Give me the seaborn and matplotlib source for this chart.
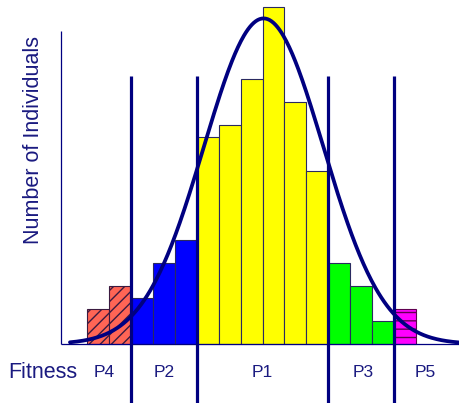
import matplotlib.pyplot as plt
import numpy as np
import pandas as pd
import seaborn as sns

# 棒グラフのデータ（ビンごとの個体数）
counts = [3, 5, 4, 7, 9, 18, 19, 23, 29.3, 21, 15, 7, 5, 2, 3]
groups = ["P4", "P4", "P2", "P2", "P2", "P1", "P1", "P1", "P1", "P1", "P1",
          "P3", "P3", "P3", "P5"]
group_colors = {"P4": "#ff6555", "P2": "#0000ff", "P1": "#ffff00",
                "P3": "#00ff00", "P5": "#ff00ff"}
group_hatch = {"P4": "///", "P5": "--"}

# 区切り線の位置（ビン境界）とラベル位置
boundaries = [2, 5, 11, 14]
label_names = ["P4", "P2", "P1", "P3", "P5"]
label_x = [0.8, 3.5, 8.0, 12.6, 15.4]

# 正規分布曲線のパラメータ
curve_mu = 8.05
curve_sigma = 2.72
curve_peak = 28.3

navy = "#000080"
text_color = "#1a1a80"

sns.set_style("white")
plt.rcParams["font.family"] = ["Liberation Sans", "DejaVu Sans"]

fig = plt.figure(figsize=(4.59, 4.03), dpi=100)
ax = fig.add_axes([0, 0, 1, 1])

df = pd.DataFrame({
    "bin": np.arange(len(counts)) + 0.5,
    "count": counts,
    "group": groups,
})
sns.barplot(data=df, x="bin", y="count", hue="group", palette=group_colors,
            native_scale=True, width=1, dodge=False, legend=False,
            saturation=1, edgecolor="#2a2a60", linewidth=0.8, ax=ax)

# ハッチング
for patch, g in zip(sorted(ax.patches, key=lambda p: p.get_x()), groups):
    if g in group_hatch:
        patch.set_hatch(group_hatch[g])
        patch.set_edgecolor("#3a1a40" if g == "P4" else "#600050")

# 軸線
ax.plot([-1.19, -1.19], [0, 27.2], color=navy, lw=0.9, solid_capstyle="butt")
ax.plot([-1.19, 17.2], [0, 0], color=navy, lw=0.9, solid_capstyle="butt")

# 区切り線
for b in boundaries:
    ax.plot([b, b], [-6, 23.3], color=navy, lw=2.3, solid_capstyle="butt")

# 曲線
xs = np.linspace(-0.78, 17.2, 400)
ys = curve_peak * np.exp(-(xs - curve_mu) ** 2 / (2 * curve_sigma ** 2))
sns.lineplot(x=xs, y=ys, color=navy, lw=2.7, ax=ax)

# テキスト
ax.text(-2.0, -2.45, "Fitness", fontsize=15.5, color=text_color,
        ha="center", va="center")
for name, lx in zip(label_names, label_x):
    ax.text(lx, -2.45, name, fontsize=12.5, color=text_color,
            ha="center", va="center")
ax.text(-2.46, 17.7, "Number of Individuals", fontsize=15.5, color=text_color,
        ha="center", va="center", rotation=90)

ax.set_xlim(-3.97, 16.96)
ax.set_ylim(-5.13, 29.9)
ax.axis("off")

fig.savefig("out.png", dpi=100)
